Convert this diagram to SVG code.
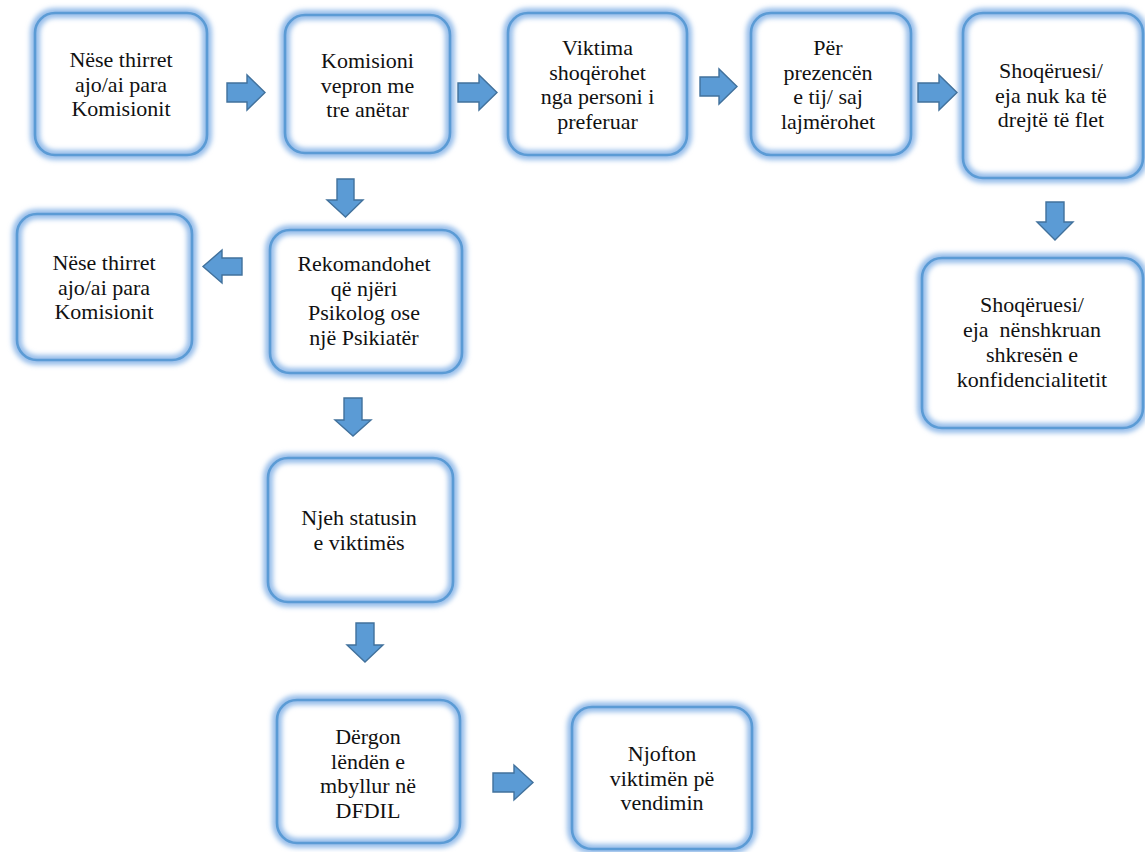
<svg xmlns="http://www.w3.org/2000/svg" width="1145" height="852" viewBox="0 0 1145 852">
  <defs>
    <filter id="soft" x="-20%" y="-20%" width="140%" height="140%">
      <feGaussianBlur stdDeviation="2.4"/>
    </filter>
  </defs>
  <style>
    .fill { fill: #ffffff; stroke: none; }
    .glow { fill: none; stroke: #96bdea; stroke-width: 10; filter: url(#soft); }
    .edge { fill: none; stroke: #5b9bd5; stroke-width: 2.6; }
    .lbl { font-size: 22px; fill: #111111; text-anchor: middle; }
    .arrow { fill: #5b9bd5; stroke: #41719c; stroke-width: 1.4; stroke-linejoin: miter; }
  </style>

  <rect width="1145" height="852" fill="#ffffff"/>

  <g font-family="'Liberation Serif', 'Times New Roman', 'DejaVu Serif', 'Noto Serif', serif">
  <!-- process boxes -->
  <g id="n1">
    <rect class="fill" x="35" y="13" width="172" height="142" rx="20"/>
    <rect class="glow" x="35" y="13" width="172" height="142" rx="20"/>
    <rect class="edge" x="35" y="13" width="172" height="142" rx="20"/>
    <text class="lbl"><tspan x="121" y="67">Nëse thirret</tspan><tspan x="121" y="91.5">ajo/ai para</tspan><tspan x="121" y="116">Komisionit</tspan></text>
  </g>

  <g id="n2">
    <rect class="fill" x="285" y="15" width="165" height="138" rx="20"/>
    <rect class="glow" x="285" y="15" width="165" height="138" rx="20"/>
    <rect class="edge" x="285" y="15" width="165" height="138" rx="20"/>
    <text class="lbl"><tspan x="367.5" y="68">Komisioni</tspan><tspan x="367.5" y="92.5">vepron me</tspan><tspan x="367.5" y="117">tre anëtar</tspan></text>
  </g>

  <g id="n3">
    <rect class="fill" x="508" y="13" width="179" height="142" rx="20"/>
    <rect class="glow" x="508" y="13" width="179" height="142" rx="20"/>
    <rect class="edge" x="508" y="13" width="179" height="142" rx="20"/>
    <text class="lbl"><tspan x="597.5" y="55">Viktima</tspan><tspan x="597.5" y="79.5">shoqërohet</tspan><tspan x="597.5" y="104">nga personi i</tspan><tspan x="597.5" y="128.5">preferuar</tspan></text>
  </g>

  <g id="n4">
    <rect class="fill" x="751" y="13" width="160" height="142" rx="20"/>
    <rect class="glow" x="751" y="13" width="160" height="142" rx="20"/>
    <rect class="edge" x="751" y="13" width="160" height="142" rx="20"/>
    <text class="lbl"><tspan x="828" y="55">Për</tspan><tspan x="828" y="79.5">prezencën</tspan><tspan x="828" y="104">e tij/ saj</tspan><tspan x="828" y="128.5">lajmërohet</tspan></text>
  </g>

  <g id="n5">
    <rect class="fill" x="963" y="13" width="180" height="165" rx="20"/>
    <rect class="glow" x="963" y="13" width="180" height="165" rx="20"/>
    <rect class="edge" x="963" y="13" width="180" height="165" rx="20"/>
    <text class="lbl"><tspan x="1051" y="78">Shoqëruesi/</tspan><tspan x="1051" y="102.5">eja nuk ka të</tspan><tspan x="1051" y="127">drejtë të flet</tspan></text>
  </g>

  <g id="n6">
    <rect class="fill" x="17" y="214" width="175" height="146" rx="20"/>
    <rect class="glow" x="17" y="214" width="175" height="146" rx="20"/>
    <rect class="edge" x="17" y="214" width="175" height="146" rx="20"/>
    <text class="lbl"><tspan x="104" y="270">Nëse thirret</tspan><tspan x="104" y="294.5">ajo/ai para</tspan><tspan x="104" y="319">Komisionit</tspan></text>
  </g>

  <g id="n7">
    <rect class="fill" x="270" y="230" width="192" height="143" rx="20"/>
    <rect class="glow" x="270" y="230" width="192" height="143" rx="20"/>
    <rect class="edge" x="270" y="230" width="192" height="143" rx="20"/>
    <text class="lbl"><tspan x="364" y="271">Rekomandohet</tspan><tspan x="364" y="295.5">që njëri</tspan><tspan x="364" y="320">Psikolog ose</tspan><tspan x="364" y="344.5">një Psikiatër</tspan></text>
  </g>

  <g id="n8">
    <rect class="fill" x="268" y="458" width="185" height="144" rx="20"/>
    <rect class="glow" x="268" y="458" width="185" height="144" rx="20"/>
    <rect class="edge" x="268" y="458" width="185" height="144" rx="20"/>
    <text class="lbl"><tspan x="359" y="525">Njeh statusin</tspan><tspan x="359" y="549.5">e viktimës</tspan></text>
  </g>

  <g id="n9">
    <rect class="fill" x="277" y="700" width="183" height="143" rx="20"/>
    <rect class="glow" x="277" y="700" width="183" height="143" rx="20"/>
    <rect class="edge" x="277" y="700" width="183" height="143" rx="20"/>
    <text class="lbl"><tspan x="368" y="744">Dërgon</tspan><tspan x="368" y="768.5">lëndën e</tspan><tspan x="368" y="793">mbyllur në</tspan><tspan x="368" y="817.5">DFDIL</tspan></text>
  </g>

  <g id="n10">
    <rect class="fill" x="572" y="707" width="180" height="142" rx="20"/>
    <rect class="glow" x="572" y="707" width="180" height="142" rx="20"/>
    <rect class="edge" x="572" y="707" width="180" height="142" rx="20"/>
    <text class="lbl"><tspan x="662" y="761">Njofton</tspan><tspan x="662" y="785.5">viktimën pë</tspan><tspan x="662" y="810">vendimin</tspan></text>
  </g>

  <g id="n11">
    <rect class="fill" x="922" y="258" width="221" height="170" rx="20"/>
    <rect class="glow" x="922" y="258" width="221" height="170" rx="20"/>
    <rect class="edge" x="922" y="258" width="221" height="170" rx="20"/>
    <text class="lbl"><tspan x="1032" y="312">Shoqëruesi/</tspan><tspan x="1032" y="337" xml:space="preserve">eja  nënshkruan</tspan><tspan x="1032" y="362">shkresën e</tspan><tspan x="1032" y="387">konfidencialitetit</tspan></text>
  </g>
  </g>

  <!-- block arrows between steps -->
  <g id="connectors">
    <!-- rightward -->
    <path class="arrow" d="M227,83 H247 V75 L265,92.5 L247,110 V102 H227 Z"/>
    <path class="arrow" d="M458,83 H479 V75 L497,92.5 L479,110 V102 H458 Z"/>
    <path class="arrow" d="M700,77 H719 V69 L737,86.5 L719,104 V96 H700 Z"/>
    <path class="arrow" d="M918,83 H939 V75 L957,92.5 L939,110 V102 H918 Z"/>
    <path class="arrow" d="M493,773 H514 V765 L533,782.5 L514,800 V792 H493 Z"/>
    <!-- leftward -->
    <path class="arrow" d="M242,258 H222 V250 L203,266.5 L222,283 V275 H242 Z"/>
    <!-- downward -->
    <path class="arrow" d="M337,179 H354 V200 H363 L345.5,217 L327,200 H337 Z"/>
    <path class="arrow" d="M344,398 H362 V420 H371 L353,436 L335,420 H344 Z"/>
    <path class="arrow" d="M356,623 H374 V645 H383 L365,662 L347,645 H356 Z"/>
    <path class="arrow" d="M1046,202 H1064 V222 H1073 L1055,240 L1037,222 H1046 Z"/>
  </g>
</svg>
